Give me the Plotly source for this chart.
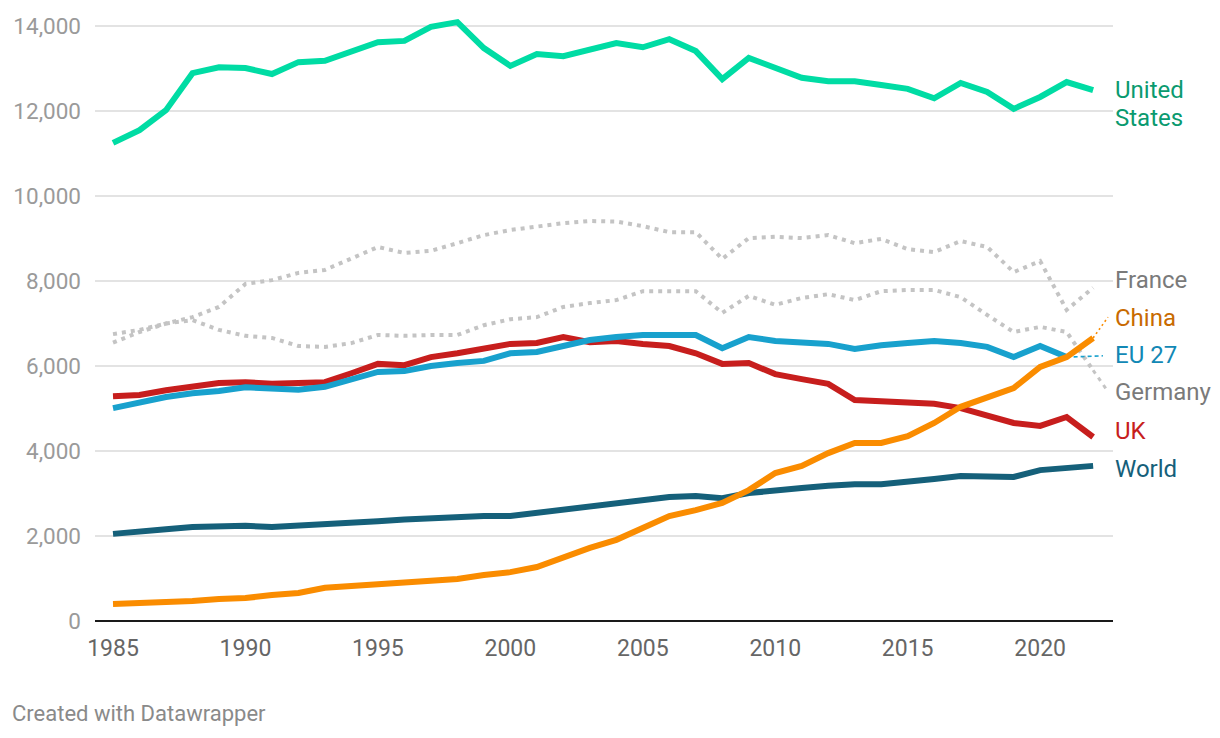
import plotly.graph_objects as go

years = list(range(1985, 2023))

united_states = [11250, 11550, 12020, 12890, 13030, 13010, 12870, 13150, 13180, 13410,
                 13620, 13650, 13980, 14090, 13480, 13060, 13340, 13290, 13430, 13600,
                 13500, 13690, 13410, 12750, 13250, 13030, 12780, 12700, 12700, 12610,
                 12520, 12300, 12660, 12450, 12050, 12330, 12680, 12490]

france = [6550, 6800, 7000, 7150, 7390, 7930, 8020, 8190, 8260, 8520,
          8800, 8660, 8710, 8890, 9080, 9200, 9290, 9360, 9410, 9400,
          9290, 9150, 9150, 8520, 9010, 9040, 9010, 9080, 8890, 8990,
          8750, 8680, 8940, 8800, 8210, 8470, 7320, 7840]

germany = [6750, 6850, 7000, 7080, 6850, 6710, 6660, 6470, 6450, 6540,
           6730, 6710, 6730, 6730, 6960, 7100, 7150, 7390, 7480, 7550,
           7760, 7760, 7760, 7250, 7650, 7440, 7600, 7690, 7550, 7760,
           7790, 7790, 7620, 7200, 6800, 6920, 6800, 5900]

china = [400, 420, 450, 470, 520, 540, 610, 660, 780, 820,
         870, 890, 920, 990, 1080, 1150, 1270, 1510, 1720, 1910,
         2190, 2470, 2610, 2780, 3080, 3480, 3650, 3950, 4190, 4190,
         4350, 4660, 5040, 5270, 5480, 5980, 6210, 6660]

eu27 = [5010, 5150, 5270, 5360, 5410, 5500, 5460, 5440, 5510, 5690,
        5860, 5880, 6000, 6070, 6120, 6300, 6330, 6470, 6610, 6680,
        6730, 6730, 6730, 6420, 6680, 6590, 6560, 6520, 6400, 6490,
        6540, 6590, 6540, 6450, 6210, 6470, 6210, None]

uk = [5290, 5320, 5430, 5510, 5600, 5620, 5580, 5600, 5620, 5830,
      6050, 6020, 6210, 6300, 6420, 6520, 6540, 6680, 6560, 6590,
      6520, 6470, 6300, 6050, 6070, 5810, 5690, 5580, 5200, 5180,
      5150, 5110, 5010, 4850, 4660, 4590, 4800, 4330]

world = [2050, 2090, 2160, 2210, 2240, 2240, 2210, 2240, 2260, 2310,
         2350, 2390, 2420, 2450, 2470, 2470, 2540, 2630, 2680, 2780,
         2850, 2920, 2940, 2890, 3010, 3080, 3130, 3180, 3220, 3220,
         3270, 3340, 3410, 3410, 3390, 3550, 3600, 3650]

x_ticks = [1985, 1990, 1995, 2000, 2005, 2010, 2015, 2020]
y_ticks = [0, 2000, 4000, 6000, 8000, 10000, 12000, 14000]

FONT = "Roboto"

# name, values, line colour, label colour, label lines [(text, y)], dash, width, connector (end x, end y)
series = [
    ("France", france, "#c4c4c4", "#7a7a7a", [("France", 8020)], "4px,5px", 4, None),
    ("Germany", germany, "#c4c4c4", "#7a7a7a", [("Germany", 5390)], "4px,5px", 4, (2022.52, 5435)),
    ("World", world, "#15607a", "#15607a", [("World", 3580)], "solid", 6, None),
    ("UK", uk, "#c71e1d", "#c71e1d", [("UK", 4470)], "solid", 6, None),
    ("EU 27", eu27, "#18a1cd", "#1288b5", [("EU 27", 6260)], "solid", 6, (2022.37, 6240)),
    ("China", china, "#fa8c00", "#c86a00", [("China", 7130)], "solid", 6, (2022.56, 7150)),
    ("United States", united_states, "#00dca4", "#0a9a6f",
     [("United", 12494), ("States", 11835)], "solid", 6, None),
]

fig = go.Figure()
annotations = []
for name, vals, col, lcol, labels, dash, w, conn in series:
    fig.add_trace(go.Scatter(
        x=years, y=vals, mode="lines", name=name,
        line=dict(color=col, width=w, dash=dash),
        hoverinfo="skip", showlegend=False,
    ))
    if conn is not None:
        last_i = max(i for i, v in enumerate(vals) if v is not None)
        cdash = "4px,5px" if name == "Germany" else ("2px,3px" if name == "China" else "4px,3px")
        cw = 3 if name == "Germany" else 1.6
        fig.add_trace(go.Scatter(
            x=[years[last_i], conn[0]], y=[vals[last_i], conn[1]], mode="lines",
            line=dict(color=col, width=cw, dash=cdash),
            hoverinfo="skip", showlegend=False,
        ))
    for txt, ly in labels:
        annotations.append(dict(
            x=1.0, xref="paper", xshift=0, xanchor="left",
            y=ly, yref="y", yanchor="middle",
            text=txt, showarrow=False, align="left",
            font=dict(family=FONT, size=24, color=lcol),
        ))

W, H = 1220, 738
ml, mr, mt, mb = 87, 115, 1, 125

annotations.append(dict(
    x=(2 - ml) / (W - ml - mr), xref="paper",
    y=((H - mb) - 706) / (H - mt - mb), yref="paper",
    showarrow=False, text="Created with Datawrapper",
    xanchor="left", yanchor="middle",
    font=dict(family=FONT, size=22, color="#8a8a8a"),
))

fig.update_layout(
    width=W, height=H,
    margin=dict(l=ml, r=mr, t=mt, b=mb, pad=0),
    paper_bgcolor="white", plot_bgcolor="white",
    font=dict(family=FONT),
    annotations=annotations,
    xaxis=dict(
        range=[1984.32, 2022.75], tickvals=x_ticks, ticktext=[str(v) for v in x_ticks],
        showgrid=False, zeroline=False, showline=False, ticks="",
        tickfont=dict(family=FONT, size=23, color="#666666"),
        ticklabelstandoff=11, automargin=False,
    ),
    yaxis=dict(
        range=[0, 14400], tickvals=y_ticks, tickformat=",",
        showgrid=True, gridcolor="#e3e3e3", gridwidth=1.5,
        zeroline=True, zerolinecolor="#1a1a1a", zerolinewidth=2,
        showline=False, ticks="",
        tickfont=dict(family=FONT, size=22.5, color="#9a9a9a"),
        ticklabelstandoff=13, automargin=False,
    ),
)

fig.write_html("out.html")
